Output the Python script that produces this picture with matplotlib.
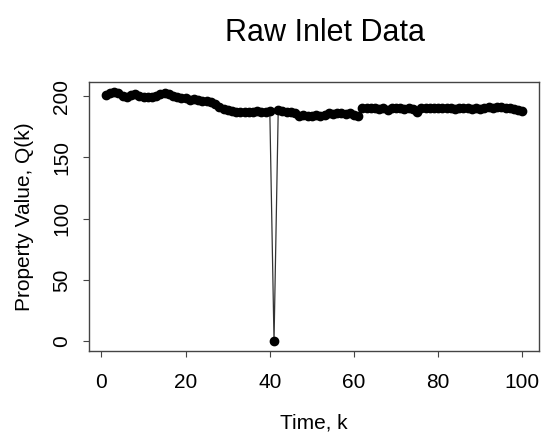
import matplotlib
matplotlib.use("Agg")
import matplotlib.pyplot as plt
import numpy as np

# inlet samples k = 1..100
k = np.arange(1, 101)
q = [201, 203, 203.5, 203, 200, 199, 201, 201.5, 200.5, 199.5,
     199, 199.5, 200.5, 202, 202.5, 201.5, 200, 199, 198.5, 198.5,
     197, 197.5, 197, 196, 196, 195.5, 193.5, 191, 189.5, 188.5,
     188, 187, 187, 187.5, 187, 187.5, 188, 187.5, 187, 188,
     0, 188.5, 188, 187.5, 187, 186, 184, 184.5, 184, 184,
     184.5, 184, 185, 186, 185.5, 186, 186, 185.5, 186, 185,
     183.5, 190, 190.5, 190, 190.5, 189.5, 190, 189, 190, 190.5,
     190, 189.5, 190, 189.5, 187, 190.5, 190, 190, 190.5, 190,
     190, 190.5, 190, 189.5, 190, 190.5, 190, 189.5, 190, 189.5,
     190, 191, 190.5, 191.5, 191, 190, 190, 189.5, 189, 188]
xticks = [0, 20, 40, 60, 80, 100]
yticks = [0, 50, 100, 150, 200]

plt.rcParams['font.family'] = ['Liberation Sans', 'DejaVu Sans']

fig = plt.figure(figsize=(5.45, 4.37), dpi=100)
ax = fig.add_axes([0.1633, 0.1968, 0.8257, 0.6156])

ax.plot(k, q, color='#333333', lw=0.9, marker='o', markersize=6,
        markerfacecolor='black', markeredgecolor='black')

# R-style 4% padding
xr = k.max() - k.min()
ax.set_xlim(k.min() - 0.04 * xr, k.max() + 0.04 * xr)
yr = max(q) - min(q)
ax.set_ylim(min(q) - 0.04 * yr, max(q) + 0.04 * yr)

ax.set_xticks(xticks)
ax.set_yticks(yticks)
ax.tick_params(axis='both', direction='out', length=4, width=0.8,
               color='#444444', labelsize=15)
ax.tick_params(axis='x', pad=12)
ax.tick_params(axis='y', pad=9)
for lbl in ax.get_yticklabels():
    lbl.set_rotation(90)
    lbl.set_va('center')
for s in ax.spines.values():
    s.set_color('#444444')
    s.set_linewidth(1.0)

ax.set_xlabel('Time, k', fontsize=15, labelpad=15)
ax.set_ylabel('Property Value, Q(k)', fontsize=15, labelpad=13)
fig.text(0.597, 0.925, 'Raw Inlet Data', fontsize=22, ha='center', va='center')

fig.savefig('out.png', dpi=100)
